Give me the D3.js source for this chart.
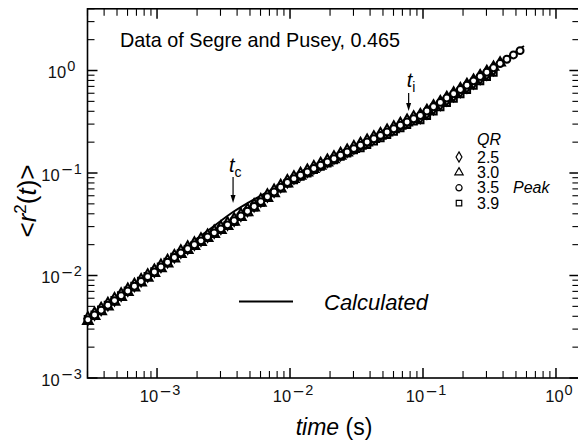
<!DOCTYPE html>
<html><head><meta charset="utf-8">
<script src="https://cdn.jsdelivr.net/npm/d3@7"></script>
<style>html,body{margin:0;padding:0;background:#fff;}svg{display:block;font-family:"Liberation Sans",Arial,sans-serif;}</style>
</head><body>
<script>
// ---- data ----
const time = [3.02e-4,3.39e-4,3.80e-4,4.27e-4,4.79e-4,5.37e-4,6.03e-4,6.76e-4,7.59e-4,8.51e-4,9.55e-4,
 1.07e-3,1.20e-3,1.35e-3,1.51e-3,1.70e-3,1.91e-3,2.14e-3,2.40e-3,2.69e-3,3.02e-3,3.39e-3,3.80e-3,4.27e-3,4.79e-3,5.37e-3,6.03e-3,6.76e-3,7.59e-3,8.51e-3,9.55e-3,
 0.0107,0.0120,0.0135,0.0151,0.0170,0.0191,0.0214,0.0240,0.0269,0.0302,0.0339,0.0380,0.0427,0.0479,0.0537,0.0603,0.0676,0.0759,0.0851,0.0955,
 0.107,0.120,0.135,0.151,0.170,0.191,0.214,0.240,0.269,0.302,0.339,0.380,0.427,0.479,0.537];
const qr25 = [0.00381,0.00424,0.00473,0.00527,0.00586,0.00653,0.00727,0.00809,0.00901,0.01004,0.01117,0.01244,0.01386,0.01545,
 0.01713,0.01875,0.02051,0.02243,0.02453,0.02684,0.02937,0.03213,
 0.0352,0.0392,0.0437,0.0486,0.0542,0.0604,0.0672,0.0748,0.0833,
 0.0907,0.0980,0.1054,0.1137,0.1225,0.1320,0.1421,0.1534,0.1651,0.1782,0.1918,0.2064,0.2228,0.2398,0.2587,0.2785,0.3005,0.3235,0.3490,
 0.3539,0.3897,0.4303,0.4740,0.5222,0.5751,0.6335,0.6978,0.7687,0.8488,0.9349,1.030];
const qr30 = [0.00359,0.00400,0.00445,0.00497,0.00552,0.00615,0.00685,0.00761,0.00849,0.00946,0.01051,0.01172,0.01306,0.01455,
 0.01613,0.01765,0.01931,0.02113,0.02311,0.02528,0.02765,0.03025,
 0.0332,0.0370,0.0411,0.0458,0.0510,0.0568,0.0632,0.0704,0.0785,
 0.0868,0.0937,0.1008,0.1087,0.1171,0.1263,0.1359,0.1467,0.1579,0.1704,0.1834,0.1974,0.2131,0.2293,0.2474,0.2663,0.2873,0.3094,0.3337,
 0.3721,0.4098,0.4525,0.4985,0.5491,0.6048,0.6662,0.7338,0.8084,0.8925,0.9831,1.083,1.192];
const qr35 = [0.00370,0.00412,0.00459,0.00512,0.00569,0.00634,0.00706,0.00785,0.00875,0.00975,0.01084,0.01208,0.01346,0.01500,
 0.01663,0.01820,0.01991,0.02178,0.02382,0.02606,0.02851,0.03119,
 0.0342,0.0381,0.0424,0.0472,0.0526,0.0586,0.0652,0.0726,0.0809,
 0.0881,0.0951,0.1023,0.1104,0.1189,0.1282,0.1380,0.1489,0.1603,0.1730,0.1862,0.2004,0.2163,0.2328,0.2512,0.2704,0.2917,0.3141,0.3388,
 0.3648,0.4018,0.4436,0.4887,0.5383,0.5929,0.6531,0.7194,0.7925,0.8750,0.9638,1.062,1.169,1.288,1.419,1.563];
const qr39 = [0.00374,0.00416,0.00464,0.00517,0.00575,0.00640,0.00713,0.00793,0.00884,0.00985,0.01095,0.01220,0.01359,0.01515,
 0.01646,0.01802,0.01971,0.02156,0.02358,0.02580,0.02822,0.03088,
 0.0335,0.0373,0.0416,0.0463,0.0515,0.0574,0.0639,0.0711,0.0793,
 0.0855,0.0922,0.0992,0.1071,0.1153,0.1244,0.1339,0.1444,0.1555,0.1678,0.1750,0.1884,0.2033,0.2188,0.2361,0.2542,0.2742,0.2953,0.3185,
 0.3283,0.3616,0.3992,0.4398,0.4845,0.5336,0.5878,0.6475,0.7133,0.7875,0.8674,0.9558];
const calcTime = [3.0e-4,1.053e-3,1.681e-3,2.503e-3,3.728e-3,5.949e-3,0.0100,0.02826,0.0949,0.2256,0.5745];
const calcMSD  = [0.003763,0.01210,0.01940,0.02842,0.04165,0.05965,0.08545,0.1676,0.3681,0.7551,1.734];
const seriesLabels = ["2.5","3.0","3.5","3.9"];
const xMajor = [1e-3,1e-2,1e-1,1e0];
const xMajorExp = ["−3","−2","−1","0"];
const yMajor = [1e-3,1e-2,1e-1,1e0];
const yMajorExp = ["−3","−2","−1","0"];
const tc = 3.73e-3, ti = 0.078;

// ---- layout ----
const W = 578, H = 442;
const svg = d3.select("body").append("svg").attr("width", W).attr("height", H);
const x = d3.scaleLog().domain([3e-4, 1.5]).range([87.5, 579.4]);
const y = d3.scaleLog().domain([1e-3, 4]).range([378, 8.8]);
const L = x.range()[0], R = x.range()[1], B = y.range()[0], T = y.range()[1];

function logTicks(dom) {
  const out = [];
  for (let e = -4; e <= 1; e++) for (let m = 1; m <= 9; m++) {
    const v = m * Math.pow(10, e);
    if (v >= dom[0] * 0.9999 && v <= dom[1] * 1.0001) out.push({v, major: m === 1});
  }
  return out;
}
const ax = svg.append("g").attr("stroke", "#000");
logTicks(x.domain()).forEach(t => {
  const px = x(t.v), len = t.major ? 10 : 7, sw = t.major ? 1.5 : 1.1;
  ax.append("line").attr("x1", px).attr("x2", px).attr("y1", B).attr("y2", B - len).attr("stroke-width", sw);
  ax.append("line").attr("x1", px).attr("x2", px).attr("y1", T).attr("y2", T + len).attr("stroke-width", sw);
});
logTicks(y.domain()).forEach(t => {
  const py = y(t.v), len = t.major ? 10 : 7, sw = t.major ? 1.5 : 1.1;
  ax.append("line").attr("y1", py).attr("y2", py).attr("x1", L).attr("x2", L + len).attr("stroke-width", sw);
  ax.append("line").attr("y1", py).attr("y2", py).attr("x1", R).attr("x2", R - len).attr("stroke-width", sw);
});
svg.append("rect").attr("x", L).attr("y", T).attr("width", R - L).attr("height", B - T)
  .attr("fill", "none").attr("stroke", "#000").attr("stroke-width", 1.6);

// tick labels: "10" with a superscript exponent
function expLabel(t, e) {
  t.append("tspan").text("10");
  if (e.startsWith("−")) {
    t.append("tspan").attr("dx", 2).attr("dy", -4.5).attr("font-size", 19).text("−");
    t.append("tspan").attr("dx", 1).attr("dy", -2.5).attr("font-size", 14.5).text(e.slice(1));
  } else {
    t.append("tspan").attr("dx", 1).attr("dy", -7).attr("font-size", 14.5).text(e);
  }
}
xMajor.forEach((v, i) => {
  const t = svg.append("text").attr("x", x(v) + 3).attr("y", 402).attr("text-anchor", "middle")
    .attr("font-size", 16.5).attr("fill", "#111");
  expLabel(t, xMajorExp[i]);
});
yMajor.forEach((v, i) => {
  const t = svg.append("text").attr("x", 61.5).attr("y", y(v) + 7.5).attr("text-anchor", "middle")
    .attr("font-size", 16.5).attr("fill", "#111");
  expLabel(t, yMajorExp[i]);
});

// axis titles
const xt = svg.append("text").attr("x", 334).attr("y", 435).attr("text-anchor", "middle").attr("font-size", 23);
xt.append("tspan").attr("font-style", "italic").text("time");
xt.append("tspan").text(" (s)");
const yt = svg.append("text").attr("transform", "translate(36,201) rotate(-90)").attr("text-anchor", "middle").attr("font-size", 26);
yt.append("tspan").text("<");
yt.append("tspan").attr("font-style", "italic").text("r");
yt.append("tspan").attr("dy", -10).attr("font-size", 17).text("2");
yt.append("tspan").attr("dy", 10).text("(");
yt.append("tspan").attr("font-style", "italic").text("t");
yt.append("tspan").text(")>");

// title
svg.append("text").attr("x", 120).attr("y", 47).attr("font-size", 19.8).text("Data of Segre and Pusey, 0.465");

// calculated line
const calc = calcTime.map((t, i) => [x(t), y(calcMSD[i])]);
svg.append("path").attr("d", d3.line().curve(d3.curveMonotoneX)(calc))
  .attr("fill", "none").attr("stroke", "#000").attr("stroke-width", 2);

// markers
const shapes = [d3.symbolDiamond, d3.symbolTriangle, d3.symbolCircle, d3.symbolSquare];
const sizes = [44, 40, 38, 40];
const seriesData = [qr25, qr30, qr35, qr39];
const drawOrder = [3, 1, 0, 2];
const mk = svg.append("g");
drawOrder.forEach(s => {
  seriesData[s].forEach((v, i) => {
    mk.append("path").attr("d", d3.symbol(shapes[s], sizes[s])())
      .attr("transform", `translate(${x(time[i])},${y(v)})`)
      .attr("fill", "#fff").attr("stroke", "#000").attr("stroke-width", 2);
  });
});

// annotations
function arrow(xv, y1, y2) {
  const px = x(xv);
  svg.append("line").attr("x1", px).attr("x2", px).attr("y1", y1).attr("y2", y2 - 6).attr("stroke", "#000").attr("stroke-width", 1.2);
  svg.append("path").attr("d", `M${px - 2.5},${y2 - 8}L${px + 2.5},${y2 - 8}L${px},${y2}Z`).attr("fill", "#000");
}
arrow(tc, 177, 203);
const tcT = svg.append("text").attr("x", x(tc) - 4).attr("y", 172).attr("font-size", 20);
tcT.append("tspan").attr("font-style", "italic").text("t");
tcT.append("tspan").attr("dy", 5).attr("font-size", 14).text("c");
arrow(ti, 93, 111);
const tiT = svg.append("text").attr("x", x(ti) - 2).attr("y", 87).attr("font-size", 20);
tiT.append("tspan").attr("font-style", "italic").text("t");
tiT.append("tspan").attr("dy", 5).attr("font-size", 14).text("i");

// legend (QR)
svg.append("text").attr("x", 477).attr("y", 145).attr("font-size", 16).attr("font-style", "italic").text("QR");
seriesLabels.forEach((lab, i) => {
  const cy = 157 + i * 15.4;
  svg.append("path").attr("d", d3.symbol(shapes[i], 30)())
    .attr("transform", `translate(459,${cy})`).attr("fill", "none").attr("stroke", "#000").attr("stroke-width", 1.2);
  svg.append("text").attr("x", 477).attr("y", cy + 5.5).attr("font-size", 16).text(lab);
});
svg.append("text").attr("x", 513).attr("y", 193).attr("font-size", 16).attr("font-style", "italic").text("Peak");

// legend (Calculated)
svg.append("line").attr("x1", 239).attr("x2", 293).attr("y1", 301.5).attr("y2", 301.5).attr("stroke", "#000").attr("stroke-width", 2);
svg.append("text").attr("x", 324).attr("y", 310).attr("font-size", 22).attr("font-style", "italic").text("Calculated");
</script>
</body></html>
